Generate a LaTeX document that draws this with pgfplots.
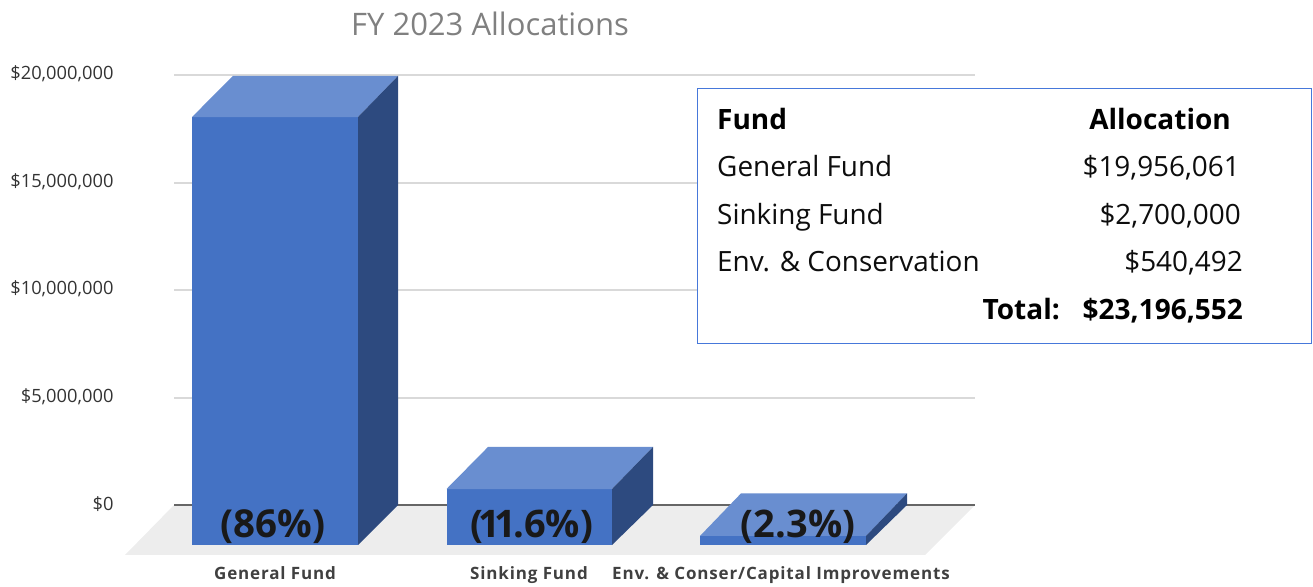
\documentclass[border=0pt]{standalone}
\usepackage{fontspec}
\setmainfont{Open Sans}
\newfontfamily\catf[LetterSpace=5]{Open Sans}
\usepackage{pgfplots}
\pgfplotsset{compat=1.18}
\definecolor{frontc}{HTML}{4472C4}
\definecolor{topc}{HTML}{698ED0}
\definecolor{sidec}{HTML}{2D4A7F}
\definecolor{floorc}{HTML}{EDEDED}
\definecolor{gridc}{HTML}{D9D9D9}
\definecolor{boxc}{HTML}{4678DA}
\begin{document}
\begin{tikzpicture}
\useasboundingbox (0pt,0pt) rectangle (1313pt,-586pt);
\begin{axis}[
  at={(174pt,-505pt)}, anchor=south west,
  scale only axis, width=801pt, height=430pt,
  xmin=174, xmax=975, ymin=0, ymax=20000000,
  clip=false,
  axis line style={draw=none},
  tick style={draw=none},
  scaled y ticks=false,
  ymajorgrids, grid style={gridc, line width=2pt},
  ytick={0,5000000,10000000,15000000,20000000},
  yticklabels={\$0,{\$5,000,000},{\$10,000,000},{\$15,000,000},{\$20,000,000}},
  yticklabel style={anchor=east, font=\fontsize{18.3}{20}\selectfont, xshift=-57pt, yshift=1pt, text=black!80},
  xtick={275,529,781},
  xticklabels={General Fund,Sinking Fund,{Env. \& Conser/Capital Improvements}},
  xticklabel style={anchor=base, font=\catf\bfseries\fontsize{17}{18}\selectfont, yshift=-74pt, text=black!75},
  title={FY 2023 Allocations},
  title style={at={(axis description cs:0.3945,1)}, anchor=base, yshift=34pt, font=\fontsize{31}{34}\selectfont, text=black!50},
]
% floor
\addplot[fill=floorc, draw=none] coordinates {(174,0) (975,0) (925,-2325000) (125,-2325000)} --cycle;
% zero line
\addplot[draw=black!60, line width=1.8pt] coordinates {(174,0) (975,0)};
% General Fund
\addplot[fill=frontc, draw=none] coordinates {(192,-1860000) (358,-1860000) (358,18046000) (192,18046000)} --cycle;
\addplot[fill=topc, draw=none] coordinates {(192,18046000) (358,18046000) (398,19956061) (233,19956061)} --cycle;
\addplot[fill=sidec, draw=none] coordinates {(358,-1860000) (398,0) (398,19956061) (358,18046000)} --cycle;
% Sinking Fund
\addplot[fill=frontc, draw=none] coordinates {(446.5,-1860000) (612,-1860000) (612,744000) (446.5,744000)} --cycle;
\addplot[fill=topc, draw=none] coordinates {(446.5,744000) (612,744000) (653,2700000) (488,2700000)} --cycle;
\addplot[fill=sidec, draw=none] coordinates {(612,-1860000) (653,0) (653,2700000) (612,744000)} --cycle;
% Env. & Conservation
\addplot[fill=frontc, draw=none] coordinates {(700,-1860000) (866,-1860000) (866,-1440000) (700,-1440000)} --cycle;
\addplot[fill=topc, draw=none] coordinates {(700,-1440000) (866,-1440000) (907,540492) (741,540492)} --cycle;
\addplot[fill=sidec, draw=none] coordinates {(866,-1860000) (907,0) (907,540492) (866,-1440000)} --cycle;
% percentage labels
\node[anchor=base, font=\bfseries\fontsize{38.5}{40}\selectfont, text=black!90] at (axis cs:273,-1500000) {(86\%)};
\node[anchor=base, font=\bfseries\fontsize{38}{40}\selectfont, text=black!90] at (axis cs:531.5,-1500000) {(\kern-4pt 1\kern-6pt 1\kern-3pt .6\%)};
\node[anchor=base, font=\bfseries\fontsize{38}{40}\selectfont, text=black!90] at (axis cs:798,-1500000) {(2.3\%)};
\end{axis}
\begin{scope}[x=1pt,y=-1pt]
\draw[draw=boxc, line width=1pt, fill=white] (697,88) rectangle (1311,343);
\tikzset{tt/.style={inner sep=0pt, font=\fontsize{27.9}{32}\selectfont, text=black!95},
         tb/.style={inner sep=0pt, font=\bfseries\fontsize{28}{32}\selectfont, text=black}}
\node[tb, anchor=base west] at (717,129) {Fund};
\node[tb, anchor=base east] at (1231,129) {Allocation};
\node[tt, anchor=base west] at (717,176) {General Fund};
\node[tt, anchor=base east] at (1240,176) {\$19,956,061};
\node[tt, anchor=base west] at (717,224) {Sinking Fund};
\node[tt, anchor=base east] at (1241,224) {\$2,700,000};
\node[tt, anchor=base west] at (717,271) {Env. \& Conservation};
\node[tt, anchor=base east] at (1243,271) {\$540,492};
\node[tb, anchor=base east] at (1060,319) {Total:};
\node[tb, anchor=base east] at (1243,319) {\$23,196,552};
\end{scope}
\end{tikzpicture}
\end{document}
